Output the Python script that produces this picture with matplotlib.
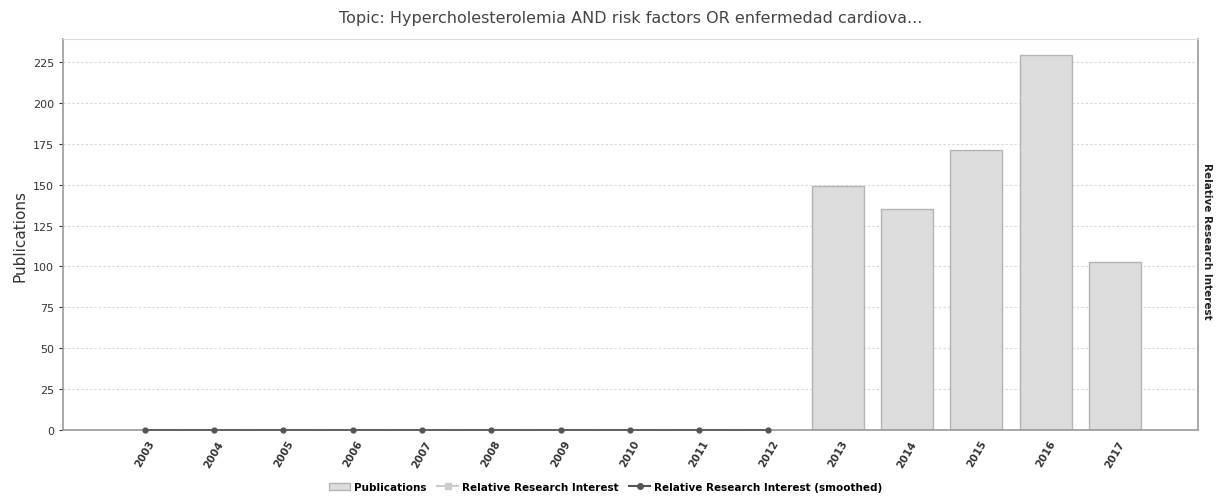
import matplotlib
matplotlib.use("Agg")
import matplotlib.pyplot as plt
from matplotlib.lines import Line2D
from matplotlib.patches import Patch

years = [str(y) for y in range(2003, 2018)]
publications = [0, 0, 0, 0, 0, 0, 0, 0, 0, 0, 149, 135, 171, 229, 103]
smoothed_years = years[:10]
smoothed = [0] * 10
y_ticks = [0, 25, 50, 75, 100, 125, 150, 175, 200, 225]

plt.rcParams["font.family"] = ["DejaVu Sans"]

fig = plt.figure(figsize=(12.24, 5.02), dpi=100)
ax = fig.add_axes([0.0515, 0.1414, 0.9273, 0.7789])

x = list(range(len(years)))
ax.bar(x, publications, width=0.75, color="#dcdcdc", edgecolor="#b4b4b4",
       linewidth=1.0, zorder=2)
ax.plot(x[:10], smoothed, color="#555555", marker="o", markersize=3.5,
        linewidth=1.2, zorder=3, clip_on=False)

ax.set_xlim(-1.18, 15.2)
ax.set_ylim(0, 239)
ax.set_yticks(y_ticks)
ax.set_xticks(x)
ax.set_xticklabels(years, rotation=60, ha="center", fontsize=7.5,
                   fontweight="bold", color="#333333")
ax.tick_params(axis="y", labelsize=8, colors="#333333", length=3)
ax.tick_params(axis="x", length=0, pad=6)
ax.yaxis.grid(True, color="#d8d8d8", linestyle=(0, (2, 2)), linewidth=0.8)
ax.set_axisbelow(True)
for s in ("left", "bottom", "right"):
    ax.spines[s].set_color("#999999")
    ax.spines[s].set_linewidth(1.2)
ax.spines["top"].set_color("#dddddd")

ax.set_ylabel("Publications", fontsize=11, color="#333333", labelpad=4)
ax.set_title("Topic: Hypercholesterolemia AND risk factors OR enfermedad cardiova...",
             fontsize=11.5, color="#444444", pad=12)

fig.text(0.986, 0.52, "Relative Research Interest", rotation=-90, fontsize=7.5,
         fontweight="bold", ha="center", va="center", color="#222222")

handles = [
    Patch(facecolor="#dcdcdc", edgecolor="#b4b4b4", label="Publications"),
    Line2D([0], [0], color="#cccccc", marker="s", markersize=4,
           label="Relative Research Interest"),
    Line2D([0], [0], color="#555555", marker="o", markersize=4,
           label="Relative Research Interest (smoothed)"),
]
fig.legend(handles=handles, loc="center", bbox_to_anchor=(0.495, 0.028), ncol=3,
           frameon=False, handlelength=2.0, columnspacing=1.0,
           handletextpad=0.4, prop={"weight": "bold", "size": 7.5})

fig.savefig("out.png", dpi=100)
